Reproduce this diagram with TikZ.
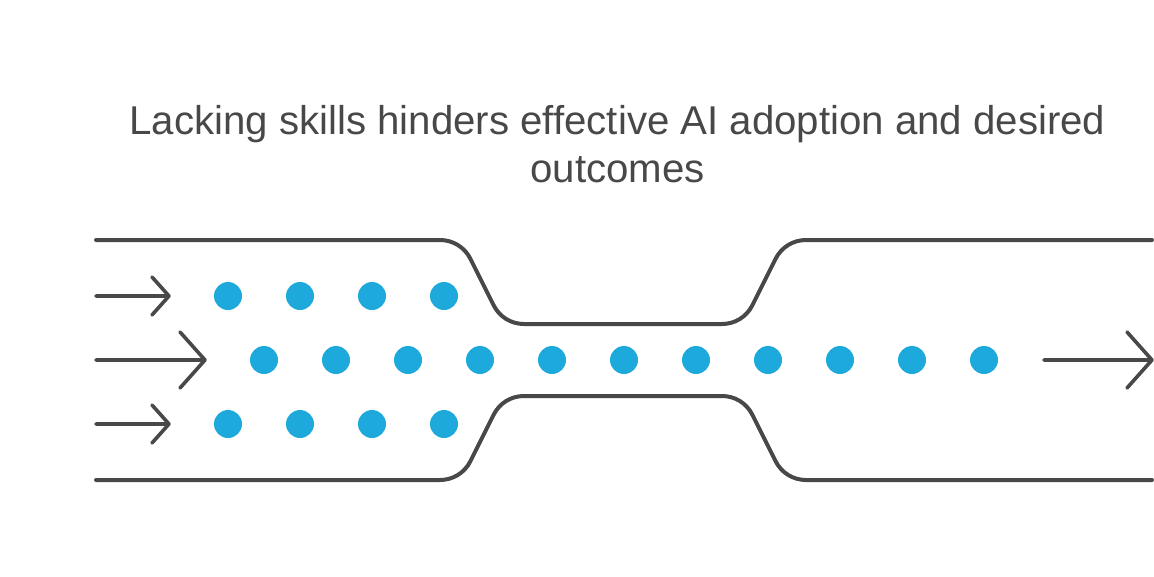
\documentclass[tikz,border=0pt]{standalone}
\usepackage{fontspec}
\setmainfont{Liberation Sans}
\definecolor{ink}{HTML}{484848}
\definecolor{dotc}{HTML}{1EA9DC}
\tikzset{
  wall/.style={draw=ink,line width=4pt,line join=round,line cap=round},
  flow/.style={draw=ink,line width=3.6pt,line join=round,line cap=round},
  ball/.style={circle,fill=dotc,minimum size=28pt,inner sep=0pt},
  titletext/.style={text=ink,font=\fontsize{40.2pt}{48pt}\selectfont,align=center,inner sep=0pt}
}
\begin{document}
\begin{tikzpicture}[x=1pt,y=-1pt]
\useasboundingbox (0,0) rectangle (1154,576);
\node[titletext] (title) at (617.5,144) {Lacking skills hinders effective AI adoption and desired\\outcomes};
\draw[wall] (96,240) -- (440,240) .. controls (452.9,240) and (464.6,247.2) .. (470.4,258.8) -- (493.6,305.2) .. controls (499.4,316.8) and (511,324) .. (524,324) -- (722,324) .. controls (735,324) and (746.6,316.8) .. (752.4,305.2) -- (775.6,258.8) .. controls (781.4,247.2) and (793.1,240) .. (806,240) -- (1152,240);
\draw[wall] (96,480) -- (440,480) .. controls (452.9,480) and (464.6,472.8) .. (470.4,461.2) -- (493.6,414.8) .. controls (499.4,403.2) and (511,396) .. (524,396) -- (722,396) .. controls (735,396) and (746.6,403.2) .. (752.4,414.8) -- (775.6,461.2) .. controls (781.4,472.8) and (793.1,480) .. (806,480) -- (1152,480);
\foreach \n/\x in {a/228,b/300,c/372,d/444}{
  \node[ball] (t\n) at (\x,296) {};
  \node[ball] (u\n) at (\x,424) {};
}
\foreach \n/\x in {a/264,b/336,c/408,d/480,e/552,f/624,g/696,h/768,i/840,j/912,k/984}{
  \node[ball] (m\n) at (\x,360) {};
}
\coordinate (a1s) at (96,296); \coordinate (a1e) at (169,296);
\coordinate (a2s) at (96,360); \coordinate (a2e) at (205,360);
\coordinate (a3s) at (96,424); \coordinate (a3e) at (169,424);
\coordinate (a4s) at (1044,360); \coordinate (a4e) at (1152,360);
\draw[flow] (a1s) -- (a1e) (152,277) -- (a1e) -- (152,315);
\draw[flow] (a2s) -- (a2e) (180,332) -- (a2e) -- (180,388);
\draw[flow] (a3s) -- (a3e) (152,405) -- (a3e) -- (152,443);
\draw[flow] (a4s) -- (a4e) (1127,332) -- (a4e) -- (1127,388);
\end{tikzpicture}
\end{document}
